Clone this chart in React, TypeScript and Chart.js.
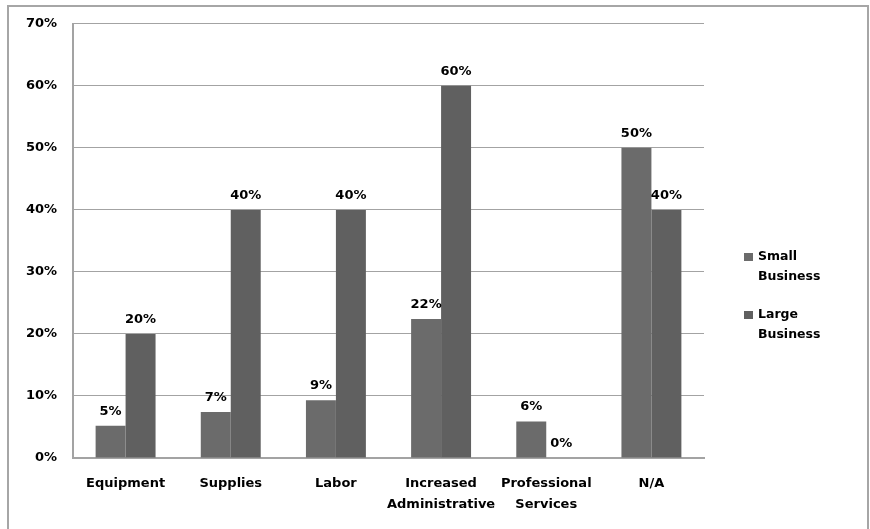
import React, { useEffect, useRef } from "react";
import { Chart, registerables } from "chart.js";

Chart.register(...registerables);

const categories: string[][] = [
  ["Equipment"],
  ["Supplies"],
  ["Labor"],
  ["Increased", "Administrative"],
  ["Professional", "Services"],
  ["N/A"],
];
const seriesNames = ["Small Business", "Large Business"];
const smallBusiness = [5.2, 7.4, 9.3, 22.4, 5.9, 50];
const largeBusiness = [20, 40, 40, 60, 0, 40];
const yTickMax = 70;
const yTickStep = 10;

const FONT = "'DejaVu Sans', sans-serif";
const SMALL_COLOR = "#6b6b6b";
const LARGE_COLOR = "#606060";
const GRID = "#a3a3a3";

const decorPlugin = {
  id: "decor",
  beforeDraw(chart: any) {
    const ctx = chart.ctx;
    ctx.save();
    ctx.fillStyle = "#ffffff";
    ctx.fillRect(0, 0, chart.width, chart.height);
    ctx.restore();
  },
  afterDatasetsDraw(chart: any) {
    const ctx = chart.ctx;
    ctx.save();
    ctx.font = `bold 13px ${FONT}`;
    ctx.fillStyle = "#000000";
    ctx.textAlign = "center";
    ctx.textBaseline = "alphabetic";
    chart.data.datasets.forEach((ds: any, i: number) => {
      const meta = chart.getDatasetMeta(i);
      meta.data.forEach((bar: any, j: number) => {
        const v = ds.data[j];
        ctx.fillText(Math.round(v) + "%", bar.x, bar.y - 11);
      });
    });
    ctx.restore();
  },
  afterDraw(chart: any) {
    const ctx = chart.ctx;
    ctx.save();
    // outer frame
    ctx.strokeStyle = "#a6a6a6";
    ctx.lineWidth = 2;
    ctx.strokeRect(8, 6, 860, 540);
    // legend
    const area = chart.chartArea;
    const lx = area.right + 40;
    const tops = [257, 315];
    ctx.font = `bold 12.5px ${FONT}`;
    ctx.textBaseline = "middle";
    ctx.textAlign = "left";
    chart.data.datasets.forEach((ds: any, i: number) => {
      const y = tops[i];
      ctx.fillStyle = ds.backgroundColor;
      ctx.fillRect(lx, y - 4, 9, 8);
      ctx.fillStyle = "#000000";
      const words = String(ds.label).split(" ");
      words.forEach((w: string, k: number) => {
        ctx.fillText(w, lx + 14, y + k * 20);
      });
    });
    ctx.restore();
  },
};

export default function App() {
  const ref = useRef<HTMLCanvasElement | null>(null);
  useEffect(() => {
    if (!ref.current) return;
    const chart = new Chart(ref.current, {
      type: "bar",
      data: {
        labels: categories,
        datasets: [
          {
            label: seriesNames[0],
            data: smallBusiness,
            backgroundColor: SMALL_COLOR,
            categoryPercentage: 0.57,
            barPercentage: 1,
          },
          {
            label: seriesNames[1],
            data: largeBusiness,
            backgroundColor: LARGE_COLOR,
            categoryPercentage: 0.57,
            barPercentage: 1,
          },
        ],
      },
      options: {
        animation: false,
        responsive: false,
        maintainAspectRatio: false,
        devicePixelRatio: 1,
        layout: { padding: { left: 0, top: 23, right: 166, bottom: 0 } },
        plugins: {
          legend: { display: false },
          tooltip: { enabled: false },
          title: { display: false },
        },
        scales: {
          x: {
            grid: { display: false, drawTicks: false },
            border: { display: true, color: GRID, width: 2 },
            ticks: {
              color: "#000000",
              font: { family: FONT, weight: "bold", size: 13, lineHeight: 1.55 },
              padding: 16,
              maxRotation: 0,
              autoSkip: false,
            },
            afterFit(scale: any) {
              scale.height = 71;
            },
          },
          y: {
            min: 0,
            max: yTickMax,
            grid: { color: GRID, lineWidth: 1, drawTicks: false },
            border: { display: true, color: GRID, width: 2 },
            ticks: {
              stepSize: yTickStep,
              color: "#000000",
              font: { family: FONT, weight: "bold", size: 13 },
              padding: 16,
              callback: (v: any) => v + "%",
            },
            afterFit(scale: any) {
              scale.width = 73;
            },
          },
        },
      },
      plugins: [decorPlugin],
    });
    return () => chart.destroy();
  }, []);
  return (
    <div style={{ position: "absolute", left: 0, top: 0, width: 870, height: 529 }}>
      <canvas ref={ref} width={870} height={529} style={{ display: "block", width: 870, height: 529 }} />
    </div>
  );
}
